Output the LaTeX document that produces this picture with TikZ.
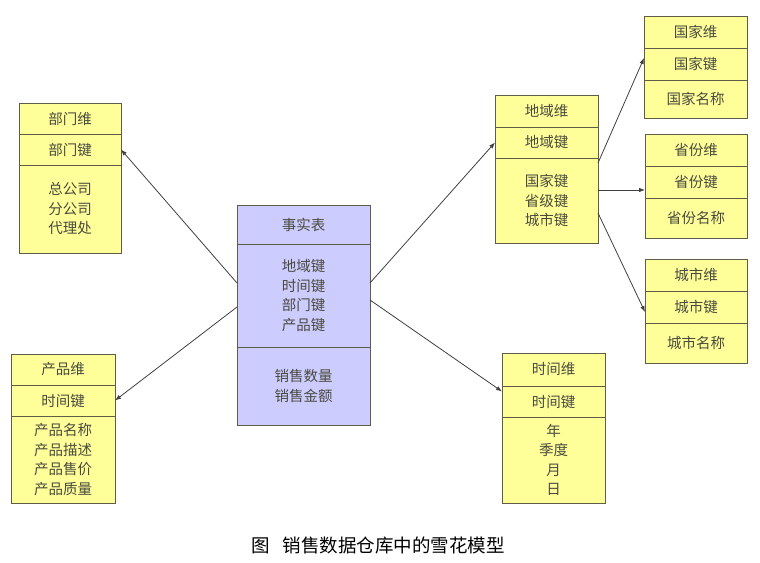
\documentclass[tikz,border=0pt]{standalone}
\usepackage{fontspec}
\setmainfont{Noto Sans CJK SC}
\usetikzlibrary{positioning, arrows.meta}
\definecolor{dimfill}{HTML}{FFFF99}
\definecolor{factfill}{HTML}{CCCCFF}
\definecolor{edge}{HTML}{5E5E48}
\definecolor{textmain}{HTML}{4A4A40}
\definecolor{linkcol}{HTML}{404040}

\begin{document}
\begin{tikzpicture}[
    x=1pt, y=-1pt,
    cell/.style={rectangle, draw=edge, line width=0.9pt, fill=dimfill, text=textmain,
                 outer sep=0pt, inner sep=0pt, align=center, font=\fontsize{14.5}{19.5}\selectfont},
    fcell/.style={cell, fill=factfill},
    arrow/.style={-{Latex[length=6pt, width=4.5pt]}, line width=0.8pt, linkcol}
  ]
    \useasboundingbox (0,0) rectangle (760,562);

    % fact table
    \node[fcell, anchor=north west, minimum width=133pt, minimum height=39pt] (fact head) at (237,205) {事实表};
    \node[fcell, below=0pt of fact head, minimum width=133pt, minimum height=103pt] (fact body) {地域键\\时间键\\部门键\\产品键};
    \node[fcell, below=0pt of fact body, minimum width=133pt, minimum height=78pt] (fact measure) {销售数量\\销售金额};

    % department dimension
    \node[cell, anchor=north west, minimum width=102pt, minimum height=31pt] (dept head) at (19,103) {部门维};
    \node[cell, below=0pt of dept head, minimum width=102pt, minimum height=31pt] (dept key) {部门键};
    \node[cell, below=0pt of dept key, minimum width=102pt, minimum height=88pt] (dept body) {总公司\\分公司\\代理处};

    % product dimension
    \node[cell, anchor=north west, minimum width=104pt, minimum height=31pt] (prod head) at (11,354) {产品维};
    \node[cell, below=0pt of prod head, minimum width=104pt, minimum height=31pt] (prod key) {时间键};
    \node[cell, below=0pt of prod key, minimum width=104pt, minimum height=87pt] (prod body) {产品名称\\产品描述\\产品售价\\产品质量};

    % region dimension
    \node[cell, anchor=north west, minimum width=103pt, minimum height=32pt] (region head) at (495,95) {地域维};
    \node[cell, below=0pt of region head, minimum width=103pt, minimum height=31pt] (region key) {地域键};
    \node[cell, below=0pt of region key, minimum width=103pt, minimum height=85pt] (region body) {国家键\\省级键\\城市键};

    % time dimension
    \node[cell, anchor=north west, minimum width=103pt, minimum height=33pt] (time head) at (502,353) {时间维};
    \node[cell, below=0pt of time head, minimum width=103pt, minimum height=31pt] (time key) {时间键};
    \node[cell, below=0pt of time key, minimum width=103pt, minimum height=86pt] (time body) {年\\季度\\月\\日};

    % country / province / city
    \node[cell, anchor=north west, minimum width=103pt, minimum height=32pt] (country head) at (644,16) {国家维};
    \node[cell, below=0pt of country head, minimum width=103pt, minimum height=32pt] (country key) {国家键};
    \node[cell, below=0pt of country key, minimum width=103pt, minimum height=38pt] (country body) {国家名称};

    \node[cell, anchor=north west, minimum width=102pt, minimum height=32pt] (prov head) at (645,134) {省份维};
    \node[cell, below=0pt of prov head, minimum width=102pt, minimum height=32pt] (prov key) {省份键};
    \node[cell, below=0pt of prov key, minimum width=102pt, minimum height=40pt] (prov body) {省份名称};

    \node[cell, anchor=north west, minimum width=102pt, minimum height=32pt] (city head) at (645,259) {城市维};
    \node[cell, below=0pt of city head, minimum width=102pt, minimum height=32pt] (city key) {城市键};
    \node[cell, below=0pt of city key, minimum width=102pt, minimum height=40pt] (city body) {城市名称};

    % links
    \draw[arrow] ([yshift=12.5pt]fact body.west) -- (dept key.east);
    \draw[arrow] ([yshift=-11.5pt]fact body.west) -- (prod key.east);
    \draw[arrow] ([yshift=12.5pt]fact body.east) -- (region key.west);
    \draw[arrow] ([yshift=-4.5pt]fact body.east) -- ([yshift=10pt]time key.west);
    \draw[arrow] ([yshift=37.5pt]region body.east) -- ([yshift=6pt]country key.west);
    \draw[arrow] ([yshift=10.5pt]region body.east) -- ([yshift=-8pt]prov key.west);
    \draw[arrow] ([yshift=-12.5pt]region body.east) -- ([yshift=-5pt]city key.west);

    % caption
    \node[font=\fontsize{18.5}{22}\selectfont, text=black] (caption) at (378,545) {图\hspace{0.7em}销售数据仓库中的雪花模型};
  \end{tikzpicture}
\end{document}
